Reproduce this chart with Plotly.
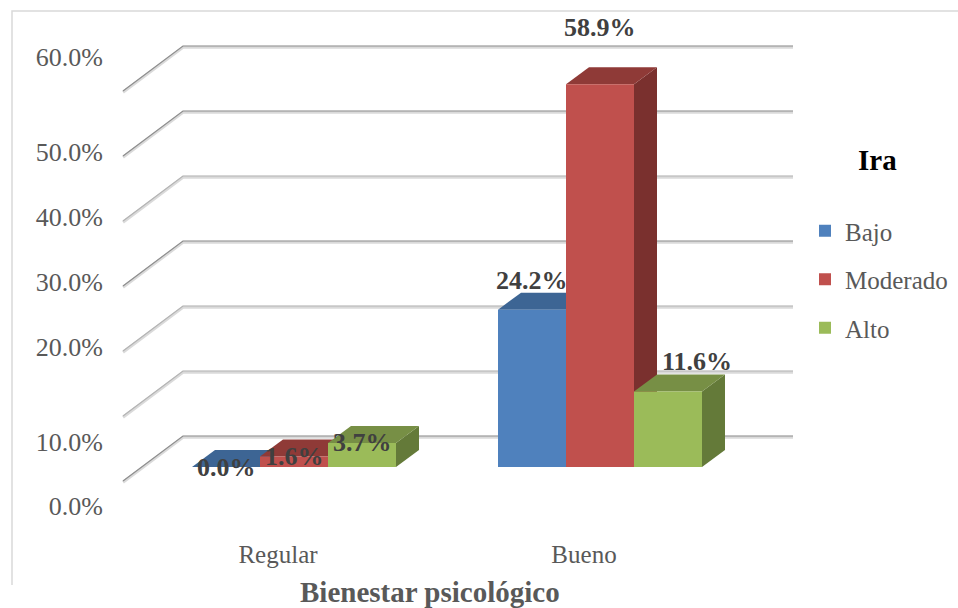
import plotly.graph_objects as go

categories = ["Regular", "Bueno"]
series_names = ["Bajo", "Moderado", "Alto"]
bajo = [0.0, 24.2]
moderado = [1.6, 58.9]
alto = [3.7, 11.6]
series_values = [bajo, moderado, alto]
grid_values = [0, 10, 20, 30, 40, 50, 60]
grid_dark = [True, False, False, True, False, True, True]
tick_labels = ["0.0%", "10.0%", "20.0%", "30.0%", "40.0%", "50.0%", "60.0%"]

front = ["#4F81BD", "#C0504D", "#9BBB59"]
top = ["#3D6594", "#8F3A37", "#778F45"]
side = ["#335580", "#7A302E", "#647A39"]
TXT = "#595959"
FONT = "Liberation Serif"

W, H = 958, 608
ML, MB = 108, 68
PX_CAT = 306.0      # pixels per category
PX_VAL = 6.5        # pixels per percent
X0_PX, Y0_PX = 294.0, 467.0
xr = [(ML - X0_PX) / PX_CAT, (W - X0_PX) / PX_CAT]
yr = [(Y0_PX - (H - MB)) / PX_VAL, Y0_PX / PX_VAL]
DX, DY = 23 / PX_CAT, 17 / PX_VAL   # bar depth
BW = 68 / PX_CAT
# wall geometry relative to the bar plane
WALL_Y, FLOOR_Y = 31 / PX_VAL, -14 / PX_VAL
WALL_L, FRONT_L, WALL_R = (183 - X0_PX) / PX_CAT, (123 - X0_PX) / PX_CAT, (793 - X0_PX) / PX_CAT
# the reference places its value labels unevenly, relative to the lines
tick_offset = [-6.0, 3.85, 18.5, 28.5, 38.5, 48.5, 63.1]
cat_label_shift = -16 / PX_CAT

fig = go.Figure()

# gridlines
def grid_path(vals):
    gx, gy = [], []
    for v in vals:
        gx += [FRONT_L, WALL_L, WALL_R, None]
        gy += [v + FLOOR_Y, v + WALL_Y, v + WALL_Y, None]
    return gx, gy

gx, gy = grid_path(grid_values)
fig.add_trace(go.Scatter(x=gx, y=[None if g is None else g - 0.2 for g in gy], mode="lines",
                         line=dict(color="#DADADA", width=3), showlegend=False, hoverinfo="skip"))
gx, gy = grid_path([v for v, d in zip(grid_values, grid_dark) if d])
fig.add_trace(go.Scatter(x=gx, y=gy, mode="lines",
                         line=dict(color="#8E8E8E", width=1.2), showlegend=False, hoverinfo="skip"))
gx, gy = grid_path([v for v, d in zip(grid_values, grid_dark) if not d])
fig.add_trace(go.Scatter(x=gx, y=gy, mode="lines",
                         line=dict(color="#B4B4B4", width=1.2), showlegend=False, hoverinfo="skip"))

# depth faces (behind the front faces, left to right)
for c in range(len(categories)):
    for s, vals in enumerate(series_values):
        v = vals[c]
        xl = c + (s - 1.5) * BW
        xr_ = xl + BW
        fig.add_trace(go.Scatter(x=[xr_, xr_ + DX, xr_ + DX, xr_, xr_], y=[0, DY, v + DY, v, 0],
                                 mode="lines", fill="toself", fillcolor=side[s],
                                 line=dict(width=0), showlegend=False, hoverinfo="skip"))
        fig.add_trace(go.Scatter(x=[xl, xr_, xr_ + DX, xl + DX, xl], y=[v, v, v + DY, v + DY, v],
                                 mode="lines", fill="toself", fillcolor=top[s],
                                 line=dict(width=0), showlegend=False, hoverinfo="skip"))

# front faces
for s, vals in enumerate(series_values):
    fig.add_trace(go.Bar(x=[0, 1], y=vals, name=series_names[s], xaxis="x2", yaxis="y2",
                         marker=dict(color=front[s], line=dict(width=0)),
                         legendgroup=series_names[s], hoverinfo="skip"))

# value labels
label_shift = [[(0, 0), (0, 0), (0, 0)], [(0, 29), (0, 57), (29, 30)]]
annots = []
for c in range(len(categories)):
    for s, vals in enumerate(series_values):
        sx, sy = label_shift[c][s]
        annots.append(dict(x=c + (s - 1) * BW, y=vals[c], xref="x", yref="y",
                           text=f"<b>{vals[c]:.1f}%</b>", showarrow=False,
                           xshift=sx, yshift=sy, xanchor="center", yanchor="middle",
                           font=dict(family=FONT, size=26, color="#404040")))

annots.append(dict(x=(430 - ML) / (W - ML), y=-(592 - (H - MB)) / (H - MB), xref="paper", yref="paper",
                   text="<b>Bienestar psicológico</b>", showarrow=False, xanchor="center", yanchor="middle",
                   font=dict(family=FONT, size=29, color=TXT)))
annots.append(dict(x=(877 - ML) / (W - ML), y=1 - 160 / (H - MB), xref="paper", yref="paper",
                   text="<b>Ira</b>", showarrow=False, xanchor="center", yanchor="middle",
                   font=dict(family=FONT, size=29, color="#000000")))

# outer frame
def fx(p):
    return (p - ML) / (W - ML)
def fy(p):
    return 1 - p / (H - MB)
frame = dict(type="path", xref="paper", yref="paper",
             path=f"M {fx(12)} {fy(585)} L {fx(12)} {fy(11)} L {fx(958)} {fy(11)}",
             line=dict(color="#D9D9D9", width=1.5), layer="below")

fig.update_layout(
    width=W, height=H, autosize=False,
    margin=dict(l=ML, r=0, t=0, b=MB),
    paper_bgcolor="white", plot_bgcolor="white",
    font=dict(family=FONT, size=25, color=TXT),
    barmode="group", bargap=1 - 3 * BW, bargroupgap=0,
    xaxis=dict(range=xr, tickvals=[0 + cat_label_shift, 1 + cat_label_shift], ticktext=categories,
               showgrid=False, zeroline=False, showline=False, ticks="", ticklabelstandoff=-3,
               tickfont=dict(size=25, color=TXT)),
    yaxis=dict(range=yr, tickvals=tick_offset, ticktext=tick_labels, showgrid=False, zeroline=False,
               showline=False, ticks="", ticklabelstandoff=4, tickfont=dict(size=26, color=TXT)),
    xaxis2=dict(range=xr, overlaying="x", visible=False),
    yaxis2=dict(range=yr, overlaying="y", visible=False),
    legend=dict(x=fx(805), y=fy(208), xanchor="left", yanchor="top", tracegroupgap=13,
                font=dict(family=FONT, size=25, color=TXT), bgcolor="rgba(0,0,0,0)"),
    annotations=annots, shapes=[frame], showlegend=True,
)
fig.write_html("out.html", config={"displayModeBar": False},
               post_script="document.body.style.margin='0';")
